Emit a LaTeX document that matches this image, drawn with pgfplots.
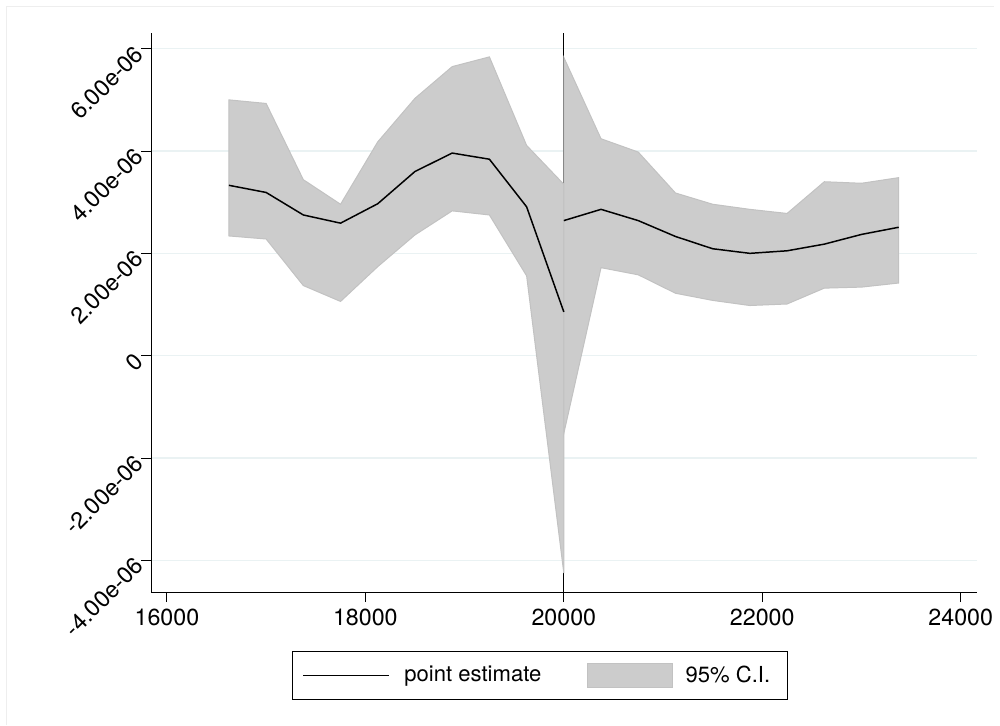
\documentclass[border=0pt]{standalone}
\usepackage{fontspec}
\setmainfont{TeX Gyre Heros}
\usepackage{pgfplots}
\usepackage{pgfplotstable}
\pgfplotsset{compat=1.18}
\usepgfplotslibrary{fillbetween}

\definecolor{gridc}{HTML}{EAF2F3}
\definecolor{bandc}{HTML}{CCCCCC}
\definecolor{bandedge}{HTML}{C2C2C2}
\definecolor{framec}{HTML}{EEEEEE}

% left of the cutoff
\pgfplotstableread{
x     est       lo        hi
16625 3.33e-6   2.34e-6   5.00e-6
17000 3.19e-6   2.28e-6   4.93e-6
17375 2.75e-6   1.37e-6   3.44e-6
17750 2.59e-6   1.06e-6   2.96e-6
18125 2.97e-6   1.74e-6   4.18e-6
18500 3.60e-6   2.36e-6   5.03e-6
18875 3.96e-6   2.83e-6   5.65e-6
19250 3.84e-6   2.75e-6   5.84e-6
19625 2.91e-6   1.56e-6   4.11e-6
20000 0.855e-6  -4.25e-6  3.35e-6
}\lefttab

% right of the cutoff
\pgfplotstableread{
x     est       lo        hi
20000 2.64e-6   -1.52e-6  5.83e-6
20375 2.86e-6   1.72e-6   4.24e-6
20750 2.64e-6   1.58e-6   3.98e-6
21125 2.33e-6   1.22e-6   3.18e-6
21500 2.09e-6   1.08e-6   2.96e-6
21875 2.00e-6   0.98e-6   2.86e-6
22250 2.05e-6   1.01e-6   2.78e-6
22625 2.18e-6   1.32e-6   3.40e-6
23000 2.37e-6   1.34e-6   3.37e-6
23375 2.51e-6   1.42e-6   3.48e-6
}\righttab

\begin{document}
\begin{tikzpicture}
\path (0,0) rectangle (500pt,365pt);
\draw[framec, line width=0.5pt] (3.5pt,0) -- (3.5pt,361.5pt) -- (500pt,361.5pt);

\begin{axis}[
  set layers,
  scale only axis,
  width=415.5pt, height=281.5pt,
  at={(76pt,67pt)}, anchor=south west,
  xmin=15840, xmax=24160,
  ymin=-4.622e-6, ymax=6.311e-6,
  axis x line*=bottom, axis y line*=left,
  axis line style={black, line width=0.5pt},
  xtick={16000,18000,20000,22000,24000},
  xticklabels={16000,18000,20000,22000,24000},
  ytick={-4e-6,-2e-6,0,2e-6,4e-6,6e-6},
  yticklabels={-4.00e-06,-2.00e-06,0,2.00e-06,4.00e-06,6.00e-06},
  scaled x ticks=false, scaled y ticks=false,
  tick align=outside, major tick length=5pt,
  tick style={black, line width=0.5pt},
  ymajorgrids=true,
  major grid style={gridc, line width=0.75pt},
  ticklabel style={font=\fontsize{11.7}{14}\selectfont},
  xticklabel style={inner sep=3.5pt},
  yticklabel style={rotate=45, anchor=east, inner sep=1pt},
  legend columns=2,
  legend style={at={(0.4714,-0.1055)}, anchor=north,
    draw=black, line width=0.5pt,
    inner xsep=0pt, inner ysep=5.5pt,
    font=\fontsize{11.1}{13}\selectfont,
    nodes={inner sep=0pt},
    /tikz/column sep=0pt},
]

% point estimate
\addplot[black, line width=0.75pt,
  legend image code/.code={\path (0pt,0pt); \draw[black, line width=0.75pt] (4.7pt,0pt) -- (48pt,0pt);}]
  table[x=x, y=est] {\lefttab};
\addlegendentry{\hspace*{7.35pt}point estimate\hspace*{22.8pt}\mbox{}}
\addplot[black, line width=0.75pt, forget plot] table[x=x, y=est] {\righttab};

% band boundaries
\addplot[draw=none, forget plot, name path=hiL] table[x=x, y=hi] {\lefttab};
\addplot[draw=none, forget plot, name path=loL] table[x=x, y=lo] {\lefttab};
\addplot[draw=none, forget plot, name path=hiR] table[x=x, y=hi] {\righttab};
\addplot[draw=none, forget plot, name path=loR] table[x=x, y=lo] {\righttab};

% cutoff line, under the bands
\addplot[black, line width=0.5pt, forget plot, on layer=axis tick labels]
  coordinates {(20000,-4.622e-6) (20000,6.311e-6)};

\addplot[fill=bandc, draw=bandedge, line width=0.5pt, on layer=pre main,
  legend image code/.code={\fill[fill=bandc, draw=bandedge, line width=0.5pt] (0pt,-6.25pt) rectangle (43pt,6.25pt);}]
  fill between[of=hiL and loL];
\addlegendentry{\hspace*{6.35pt}95\% C.I.\hspace*{8.65pt}\mbox{}}
\addplot[fill=bandc, draw=bandedge, line width=0.5pt, forget plot, on layer=pre main]
  fill between[of=hiR and loR];

\end{axis}
\end{tikzpicture}
\end{document}
